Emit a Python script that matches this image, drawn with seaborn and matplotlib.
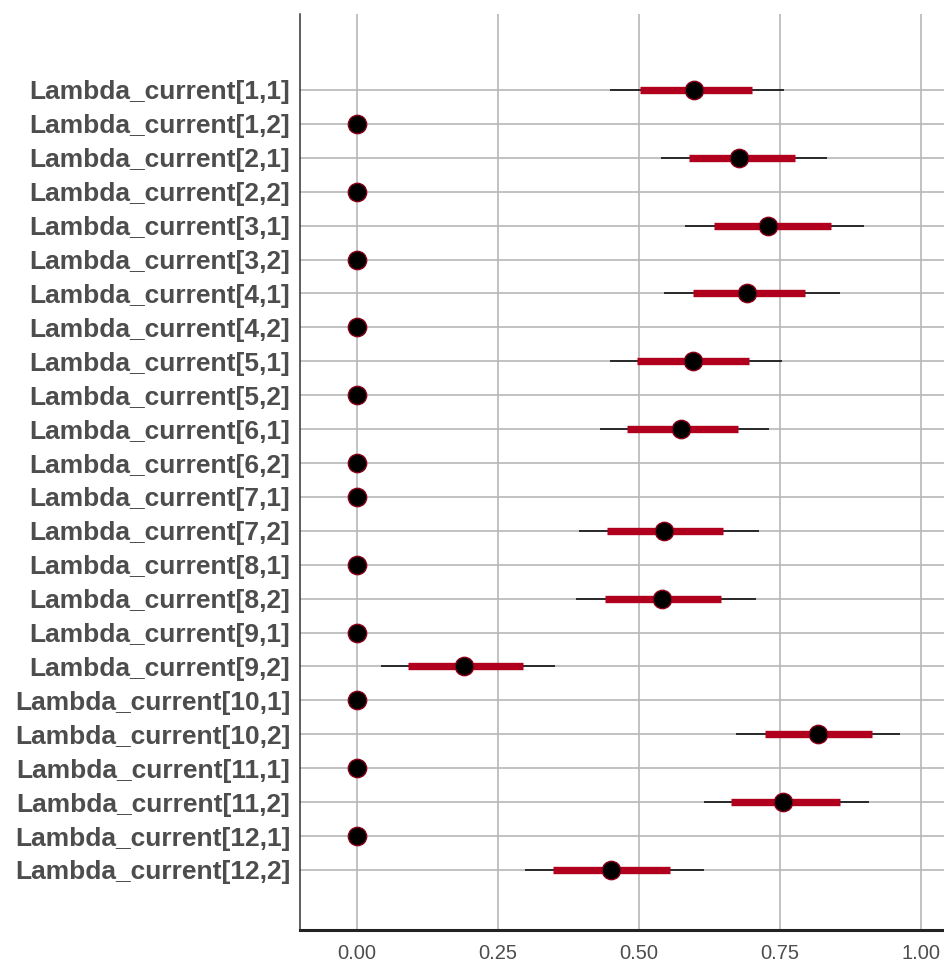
import numpy as np
import pandas as pd
import matplotlib
matplotlib.use("Agg")
import matplotlib.pyplot as plt
import seaborn as sns

# parameter names, top to bottom
params = [f"Lambda_current[{i},{j}]" for i in range(1, 13) for j in (1, 2)]

# posterior medians
med = [0.598, 0.0, 0.677, 0.0, 0.729, 0.0, 0.692, 0.0, 0.595, 0.0, 0.575, 0.0,
       0.0, 0.544, 0.0, 0.541, 0.0, 0.190, 0.0, 0.817, 0.0, 0.756, 0.0, 0.450]
# inner interval (thick red)
inner_lo = [0.501, 0.0, 0.588, 0.0, 0.633, 0.0, 0.596, 0.0, 0.497, 0.0, 0.479, 0.0,
            0.0, 0.443, 0.0, 0.439, 0.0, 0.091, 0.0, 0.723, 0.0, 0.663, 0.0, 0.348]
inner_hi = [0.700, 0.0, 0.777, 0.0, 0.840, 0.0, 0.794, 0.0, 0.695, 0.0, 0.675, 0.0,
            0.0, 0.649, 0.0, 0.646, 0.0, 0.294, 0.0, 0.913, 0.0, 0.857, 0.0, 0.555]
# outer interval (thin black)
outer_lo = [0.448, 0.0, 0.539, 0.0, 0.582, 0.0, 0.545, 0.0, 0.448, 0.0, 0.431, 0.0,
            0.0, 0.394, 0.0, 0.389, 0.0, 0.042, 0.0, 0.672, 0.0, 0.615, 0.0, 0.298]
outer_hi = [0.757, 0.0, 0.834, 0.0, 0.899, 0.0, 0.857, 0.0, 0.754, 0.0, 0.731, 0.0,
            0.0, 0.712, 0.0, 0.708, 0.0, 0.351, 0.0, 0.962, 0.0, 0.908, 0.0, 0.615]

xticks = [0.0, 0.25, 0.5, 0.75, 1.0]
xticklabels = ["0.00", "0.25", "0.50", "0.75", "1.00"]

df = pd.DataFrame({
    "param": params, "m": med,
    "ll": outer_lo, "l": inner_lo, "h": inner_hi, "hh": outer_hi,
})
df["pos"] = np.arange(len(df))

sns.set_style("white")
plt.rcParams["font.family"] = ["Liberation Sans", "DejaVu Sans"]

fig = plt.figure(figsize=(9.45, 9.61), dpi=100)
ax = fig.add_axes([300 / 945, 1 - 930 / 961, 645 / 945, (930 - 14) / 961])

grid_col = "#b8b8b8"
for x in xticks:
    ax.axvline(x, color=grid_col, lw=1.2, zorder=0)
for p in df["pos"]:
    ax.axhline(p, color=grid_col, lw=1.2, zorder=0)

ax.hlines(df["pos"], df["ll"], df["hh"], color="black", lw=1.1, zorder=2)
ax.hlines(df["pos"], df["l"], df["h"], color="#b0001e", lw=5.3, zorder=3)
sns.scatterplot(data=df, x="m", y="pos", ax=ax, s=175, color="black",
                edgecolor="#8b0018", linewidth=1.0, zorder=4, legend=False)

ax.set_xlim(-0.101, 1.0426)
ax.set_ylim(24.77, -2.24)
ax.set_xticks(xticks)
ax.set_xticklabels(xticklabels, fontsize=14.5, color="#4d4d4d")
ax.set_yticks(df["pos"])
ax.set_yticklabels(df["param"], fontsize=19, fontweight="bold", color="#4d4d4d")
ax.tick_params(axis="x", length=4, width=1.1, color="#333333", pad=6)
ax.tick_params(axis="y", length=4, width=1.1, color="#333333", pad=3)
ax.set_xlabel("")
ax.set_ylabel("")

for s in ["top", "right"]:
    ax.spines[s].set_visible(False)
ax.spines["left"].set_color("#333333")
ax.spines["left"].set_linewidth(1.1)
ax.spines["bottom"].set_color("#222222")
ax.spines["bottom"].set_linewidth(2.2)

fig.savefig("out.png", dpi=100)
